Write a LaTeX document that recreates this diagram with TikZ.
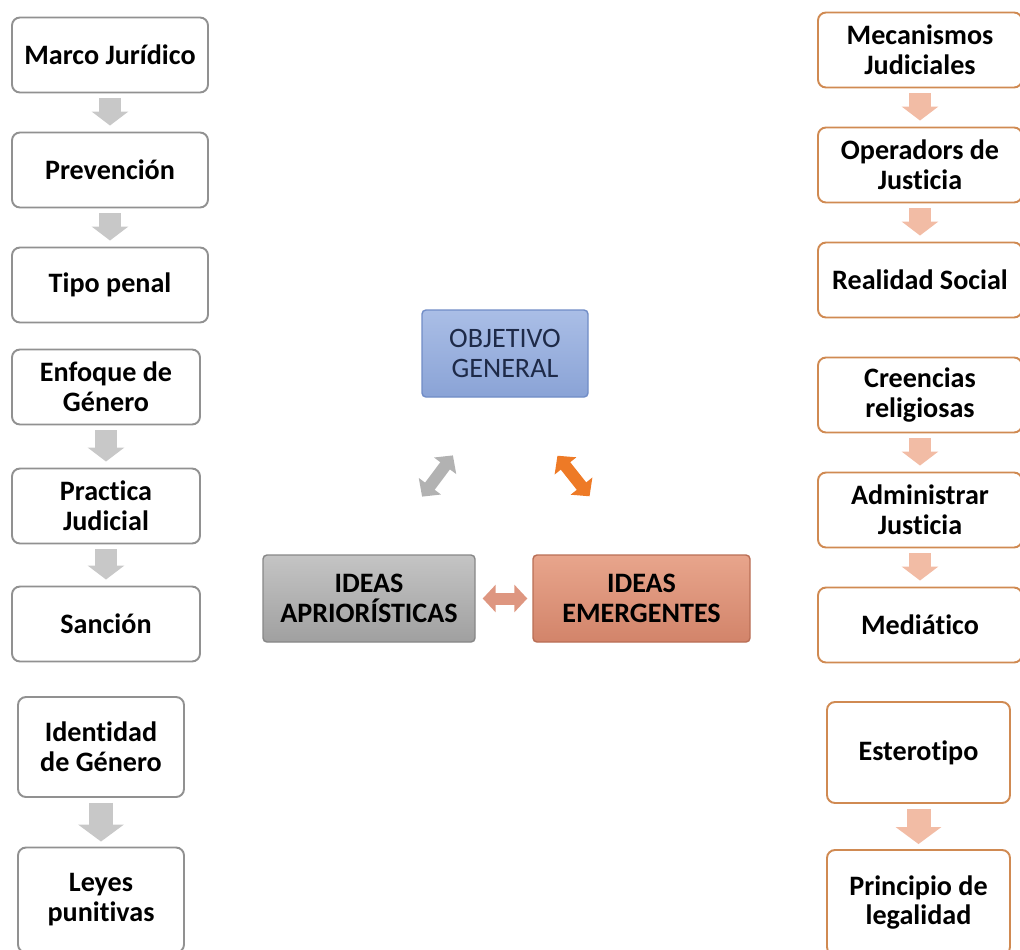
\documentclass[tikz,border=0pt]{standalone}
\usepackage{fontspec}
\setmainfont{Carlito}[Ligatures={NoCommon}]
\usetikzlibrary{shapes.geometric, arrows.meta, positioning, calc}

\definecolor{boxgray}{RGB}{145,145,145}
\definecolor{flowgray}{RGB}{200,200,200}
\definecolor{boxorange}{RGB}{208,138,82}
\definecolor{floworange}{RGB}{242,188,165}
\definecolor{objtop}{RGB}{170,190,230}
\definecolor{objbot}{RGB}{138,163,214}
\definecolor{objline}{RGB}{112,140,198}
\definecolor{objtext}{RGB}{30,42,72}
\definecolor{aprtop}{RGB}{196,196,196}
\definecolor{aprbot}{RGB}{160,160,160}
\definecolor{aprline}{RGB}{135,135,135}
\definecolor{emgtop}{RGB}{232,165,140}
\definecolor{emgbot}{RGB}{210,132,106}
\definecolor{emgline}{RGB}{185,110,85}
\definecolor{linksalmon}{RGB}{222,150,128}
\definecolor{linkgray}{RGB}{178,178,178}
\definecolor{linkorange}{RGB}{238,122,38}

\tikzstyle{leftbox} = [rectangle, rounded corners=0.16cm, minimum width=3.92cm, minimum height=1.5cm, text centered, align=center, draw=boxgray, line width=1.1pt, fill=white, font=\fontsize{16}{17}\selectfont\bfseries]
\tikzstyle{rightbox} = [leftbox, draw=boxorange, minimum width=4.08cm]
\tikzstyle{idea} = [rectangle, rounded corners=0.08cm, minimum width=4.24cm, minimum height=1.74cm, text centered, align=center, line width=0.8pt, font=\fontsize{16}{17}\selectfont\bfseries]
\tikzstyle{grayflow} = [line width=0.44cm, draw=flowgray, -{Triangle[length=0.28cm, width=0.72cm]}, shorten <=0.1cm, shorten >=0.12cm]
\tikzstyle{orangeflow} = [grayflow, draw=floworange]
\tikzstyle{bigflow} = [line width=0.48cm, -{Triangle[length=0.34cm, width=0.9cm]}, shorten <=0.1cm, shorten >=0.1cm]
\tikzstyle{link} = [line width=0.24cm, {Triangle[length=0.26cm, width=0.54cm]}-{Triangle[length=0.26cm, width=0.54cm]}]

\begin{document}
\begin{tikzpicture}[node distance=2.3cm]
    \useasboundingbox (0,0) rectangle (20.4,-18.98);

    % categorias aprioristicas
    \node (marco) [leftbox] at (2.2,-1.1) {Marco Jurídico};
    \node (prevencion) [leftbox, below of=marco] {Prevención};
    \node (tipo) [leftbox, below of=prevencion] {Tipo penal};
    \node (enfoque) [leftbox, below of=tipo, minimum width=3.76cm, xshift=-0.08cm, yshift=0.26cm] {Enfoque de\\Género};
    \node (practica) [leftbox, below of=enfoque, minimum width=3.76cm, yshift=-0.08cm] {Practica\\Judicial};
    \node (sancion) [leftbox, below of=practica, minimum width=3.76cm, yshift=-0.06cm] {Sanción};
    \node (identidad) [leftbox, below of=sancion, minimum width=3.32cm, minimum height=2cm, xshift=-0.1cm, yshift=-0.16cm] {Identidad\\de Género};
    \node (leyes) [leftbox, below of=identidad, minimum width=3.32cm, minimum height=2.1cm, yshift=-0.76cm] {Leyes\\punitivas};

    % categorias emergentes
    \node (mecanismos) [rightbox] at (18.4,-1.0) {Mecanismos\\Judiciales};
    \node (operadors) [rightbox, below of=mecanismos] {Operadors de\\Justicia};
    \node (realidad) [rightbox, below of=operadors] {Realidad Social};
    \node (creencias) [rightbox, below of=realidad] {Creencias\\religiosas};
    \node (administrar) [rightbox, below of=creencias] {Administrar\\Justicia};
    \node (mediatico) [rightbox, below of=administrar] {Mediático};
    \node (esterotipo) [rightbox, below of=mediatico, minimum width=3.66cm, minimum height=2.02cm, xshift=-0.03cm, yshift=-0.25cm] {Esterotipo};
    \node (principio) [rightbox, below of=esterotipo, minimum width=3.66cm, minimum height=2.1cm, yshift=-0.7cm] {Principio de\\legalidad};

    % centro
    \node (objetivo) [idea, top color=objtop, bottom color=objbot, draw=objline, text=objtext, minimum width=3.32cm, font=\fontsize{16}{17}\selectfont] at (10.1,-7.07) {OBJETIVO\\GENERAL};
    \node (aprioristicas) [idea, top color=aprtop, bottom color=aprbot, draw=aprline] at (7.38,-11.97) {IDEAS\\APRIORÍSTICAS};
    \node (emergentes) [idea, top color=emgtop, bottom color=emgbot, draw=emgline, minimum width=4.34cm, right of=aprioristicas, xshift=3.15cm] {IDEAS\\EMERGENTES};

    % flechas
    \foreach \a/\b in {marco/prevencion, prevencion/tipo, enfoque/practica, practica/sancion}
        \draw[grayflow] (\a) -- (\b);
    \foreach \a/\b in {mecanismos/operadors, operadors/realidad, creencias/administrar, administrar/mediatico}
        \draw[orangeflow] (\a) -- (\b);
    \draw[bigflow, draw=flowgray] (identidad) -- (leyes);
    \draw[bigflow, draw=floworange] (esterotipo) -- (principio);

    \draw[link, draw=linksalmon, shorten <=0.14cm, shorten >=0.1cm] (aprioristicas) -- (emergentes);
    \draw[link, draw=linkgray, shorten <=1.44cm, shorten >=1.44cm] ($(aprioristicas.north)+(0.2,0)$) -- ($(objetivo.south)+(-0.18,0)$);
    \draw[link, draw=linkorange, shorten <=1.48cm, shorten >=1.48cm] ($(objetivo.south)+(0.13,0)$) -- ($(emergentes.north)+(-0.12,0)$);
\end{tikzpicture}
\end{document}
